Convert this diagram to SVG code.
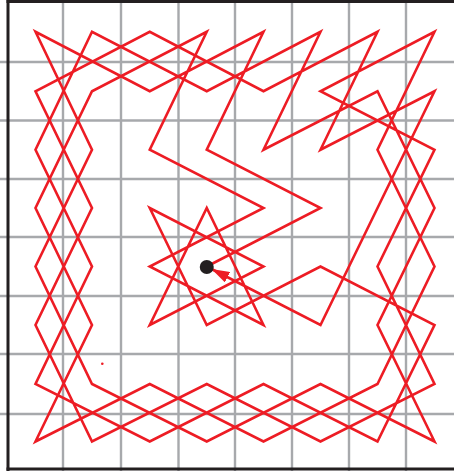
<svg xmlns="http://www.w3.org/2000/svg" width="454" height="471" viewBox="0 0 454 471">
  <style>
    .grid { stroke: #A7A9AC; stroke-width: 2.4; fill: none; }
    .border { stroke: #231F20; stroke-width: 3; fill: none; }
    .tour { stroke: #ED1C24; stroke-width: 2.6; fill: none; stroke-linejoin: miter; stroke-miterlimit: 6; }
  </style>
  <defs>
    <marker id="arrow" markerUnits="userSpaceOnUse" markerWidth="18" markerHeight="12" viewBox="0 0 17 11" refX="16" refY="5.5" orient="auto">
      <path d="M0,0 L17,5.5 L0,11 z" fill="#ED1C24"/>
    </marker>
  </defs>
  <rect width="454" height="471" fill="#FFFFFF"/>
  <g id="board">
    <g id="grid-lines" class="grid">
      <line x1="63" y1="0" x2="63" y2="471"/>
      <line x1="121" y1="0" x2="121" y2="471"/>
      <line x1="178.5" y1="0" x2="178.5" y2="471"/>
      <line x1="235" y1="0" x2="235" y2="471"/>
      <line x1="292" y1="0" x2="292" y2="471"/>
      <line x1="349" y1="0" x2="349" y2="471"/>
      <line x1="406" y1="0" x2="406" y2="471"/>
      <line x1="0" y1="62" x2="454" y2="62"/>
      <line x1="0" y1="120.5" x2="454" y2="120.5"/>
      <line x1="0" y1="179" x2="454" y2="179"/>
      <line x1="0" y1="237" x2="454" y2="237"/>
      <line x1="0" y1="296" x2="454" y2="296"/>
      <line x1="0" y1="354" x2="454" y2="354"/>
      <line x1="0" y1="414" x2="454" y2="414"/>
    </g>
    <g id="board-border" class="border">
      <line x1="8" y1="0" x2="8" y2="471"/>
      <line x1="6.5" y1="1.5" x2="454" y2="1.5"/>
      <line x1="6.5" y1="469" x2="454" y2="469"/>
    </g>
  </g>
  <g id="connectors">
    <polyline id="tour" class="tour" marker-end="url(#arrow)" points="206.75,266.5 320.5,208 206.75,149.75 263.5,31.75 149.75,91.25 35.5,31.75 92,149.75 35.5,266.5 92,384 206.75,441.5 320.5,384 434.5,441.5 377.5,325 434.5,208 377.5,91.25 263.5,149.75 320.5,31.75 206.75,91.25 92,31.75 35.5,149.75 92,266.5 35.5,384 149.75,441.5 263.5,384 377.5,441.5 434.5,325 320.5,266.5 206.75,325 149.75,208 263.5,266.5 149.75,325 206.75,208 263.5,325 149.75,266.5 263.5,208 149.75,149.75 206.75,31.75 92,91.25 35.5,208 92,325 35.5,441.5 149.75,384 263.5,441.5 377.5,384 434.5,266.5 377.5,149.75 434.5,31.75 320.5,91.25 434.5,149.75 377.5,266.5 434.5,384 320.5,441.5 206.75,384 92,441.5 35.5,325 92,208 35.5,91.25 149.75,31.75 263.5,91.25 377.5,31.75 320.5,149.75 434.5,91.25 377.5,208 320.5,325 212.5,269.5"/>
  </g>
  <g id="start">
    <circle cx="206.75" cy="267" r="7" fill="#231F20"/>
  </g>
  <g id="speck">
    <circle cx="102.3" cy="363.8" r="1.3" fill="#ED1C24"/>
  </g>
</svg>
